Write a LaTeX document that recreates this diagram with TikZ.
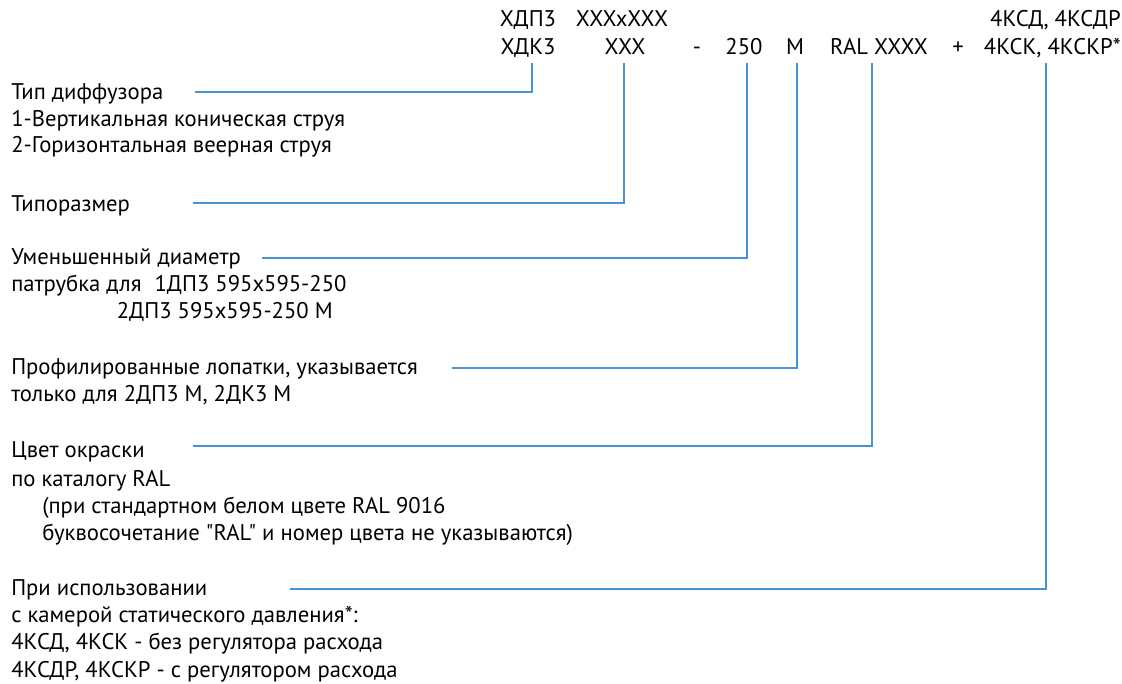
\documentclass[tikz,border=0pt]{standalone}
\usepackage{fontspec}
\setmainfont[Ligatures=TeXOff]{PT Sans}
\usetikzlibrary{calc}
\definecolor{leadblue}{RGB}{72,146,214}
\begin{document}
\begin{tikzpicture}[x=0.75pt, y=-0.75pt, font=\fontsize{17}{20}\selectfont,
    lbl/.style={anchor=base west, inner sep=0pt},
    code/.style={anchor=base, inner sep=0pt},
    codeR/.style={anchor=base east, inner sep=0pt},
    leader/.style={draw=leadblue, line width=1.5pt}]
    \useasboundingbox (0,0) rectangle (1122,684);

    % Code string (top)
    \node[code] (xdp) at (528,27) {ХДП3};
    \node[code] (szA) at (622,27) {XXXxXXX};
    \node[codeR] (ksd) at (1121,27) {4КСД, 4КСДР};
    \node[code] (xdk) at (528,55) {ХДК3};
    \node[code] (szB) at (625,55) {XXX};
    \node[code] (dash) at (697,55) {-};
    \node[code] (dia) at (744,55) {250};
    \node[code] (prof) at (795,55) {M};
    \node[code] (ral) at (879,55) {RAL XXXX};
    \node[code] (plus) at (958,55) {+};
    \node[codeR] (ksk) at (1121,55) {4КСК, 4КСКР*};

    % Descriptions (left)
    \node[lbl] (typ) at (11,100) {Тип диффузора};
    \node[lbl] (typA) at (11,127) {1-Вертикальная коническая струя};
    \node[lbl] (typB) at (11,153) {2-Горизонтальная веерная струя};
    \node[lbl] (size) at (11,212) {Типоразмер};
    \node[lbl] (red) at (11,265) {Уменьшенный диаметр};
    \node[lbl] (redA) at (11,292) {патрубка для\hspace{9.75pt}1ДП3 595x595-250};
    \node[anchor=base east, inner sep=0pt] (redB) at (333,319) {2ДП3 595x595-250 М};
    \node[lbl] (lop) at (11,375) {Профилированные лопатки, указывается};
    \node[lbl] (lopA) at (11,402) {только для 2ДП3 М, 2ДК3 М};
    \node[lbl] (col) at (11,458) {Цвет окраски};
    \node[lbl] (colA) at (11,486) {по каталогу RAL};
    \node[lbl] (colB) at (42,513) {(при стандартном белом цвете RAL 9016};
    \node[lbl] (colC) at (42,540) {буквосочетание "RAL" и номер цвета не указываются)};
    \node[lbl] (cam) at (11,595) {При использовании};
    \node[lbl] (camA) at (11,622) {с камерой статического давления*:};
    \node[lbl] (camB) at (11,649) {4КСД, 4КСК - без регулятора расхода};
    \node[lbl] (camC) at (11,677) {4КСДР, 4КСКР - с регулятором расхода};

    % Leader lines
    \coordinate (typT) at (195,92);
    \coordinate (sizeT) at (193,203);
    \coordinate (redT) at (262,258);
    \coordinate (lopT) at (452,368);
    \coordinate (colT) at (193,446);
    \coordinate (camT) at (290,589);
    \draw[leader] (typT) -| ($(xdk.base)+(4,8)$);
    \draw[leader] (sizeT) -| ($(szB.base)+(-1,8)$);
    \draw[leader] (redT) -| ($(dia.base)+(3,8)$);
    \draw[leader] (lopT) -| ($(prof.base)+(2,8)$);
    \draw[leader] (colT) -| ($(ral.base)+(-7,8)$);
    \draw[leader] (camT) -| ($(ksk.base)+(-6,8)$);
\end{tikzpicture}
\end{document}
